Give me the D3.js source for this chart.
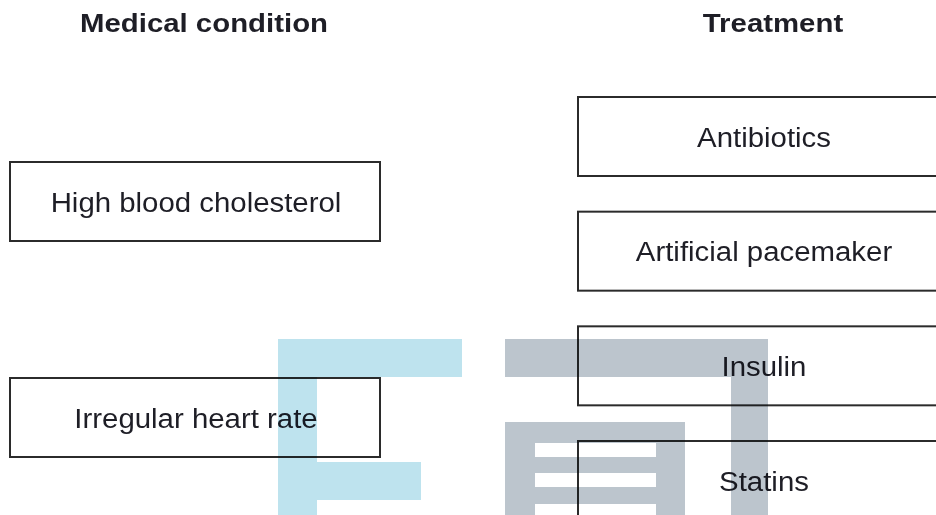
<!DOCTYPE html>
<html>
<head>
<meta charset="utf-8">
<script src="https://cdn.jsdelivr.net/npm/d3@7"></script>
<style>
  body { margin: 0; background: #fff; }
  svg { display: block; }
  text { font-family: "Liberation Sans", Arial, sans-serif; fill: #1e1e26; }
</style>
</head>
<body>
<svg id="chart" width="936" height="515"></svg>
<script>
var headers = ["Medical condition", "Treatment"];
var conditions = ["High blood cholesterol", "Irregular heart rate"];
var treatments = ["Antibiotics", "Artificial pacemaker", "Insulin", "Statins"];

var svg = d3.select("#chart");
var width = 936, height = 515;

var boxW = 370, boxH = 79, fs = 28;

// column positions
var x = d3.scaleOrdinal().domain(headers).range([10, 578]);
// row positions per column
var yLeft = d3.scaleLinear().domain([0, conditions.length - 1]).range([162, 378]);
var yRight = d3.scaleLinear().domain([0, treatments.length - 1]).range([97, 441]);

function column(name, items, y) {
    var g = svg.append("g").attr("class", "col");
    var cx = x(name) + boxW / 2;

    g.append("text")
        .attr("x", 0).attr("y", 0)
        .attr("transform", "translate(" + (cx + (name == headers[0] ? 9 : 10)) + ",32) scale(1.13,1)")
        .attr("text-anchor", "middle")
        .style("font-size", "26px")
        .style("font-weight", "bold")
        .text(name);

    var box = g.selectAll("g.box").data(items).enter()
        .append("g")
        .attr("class", "box")
        .attr("transform", function (d, i) { return "translate(" + x(name) + "," + y(i) + ")"; });

    box.append("rect")
        .attr("width", boxW)
        .attr("height", boxH)
        .attr("fill", "#fff")
        .attr("stroke", "#2b2b2b")
        .attr("stroke-width", 2);

    box.append("text")
        .attr("transform", "translate(" + (boxW / 2 + 1) + "," + (boxH / 2 + fs * 0.36) + ") scale(1.05,1)")
        .attr("text-anchor", "middle")
        .style("font-size", fs + "px")
        .text(function (d) { return d; });
}

column(headers[0], conditions, yLeft);
column(headers[1], treatments, yRight);

// watermark logo drawn on top, multiplied
var wm = svg.append("g").style("mix-blend-mode", "multiply");
var cyan = "#bee3ee", grey = "#bcc5cd";
// left "E"-like shape
wm.append("rect").attr("x", 278).attr("y", 339).attr("width", 184).attr("height", 38).attr("fill", cyan);
wm.append("rect").attr("x", 278).attr("y", 377).attr("width", 39).attr("height", 138).attr("fill", cyan);
wm.append("rect").attr("x", 317).attr("y", 462).attr("width", 104).attr("height", 38).attr("fill", cyan);
// right grey shape
wm.append("rect").attr("x", 505).attr("y", 339).attr("width", 263).attr("height", 38).attr("fill", grey);
wm.append("rect").attr("x", 731).attr("y", 377).attr("width", 37).attr("height", 138).attr("fill", grey);
wm.append("path")
    .attr("fill", grey)
    .attr("fill-rule", "evenodd")
    .attr("d", "M505,422H685V515H505Z" +
        "M535,443H656V457H535Z" +
        "M535,473H656V487H535Z" +
        "M535,504H656V515H535Z");
</script>
</body>
</html>
